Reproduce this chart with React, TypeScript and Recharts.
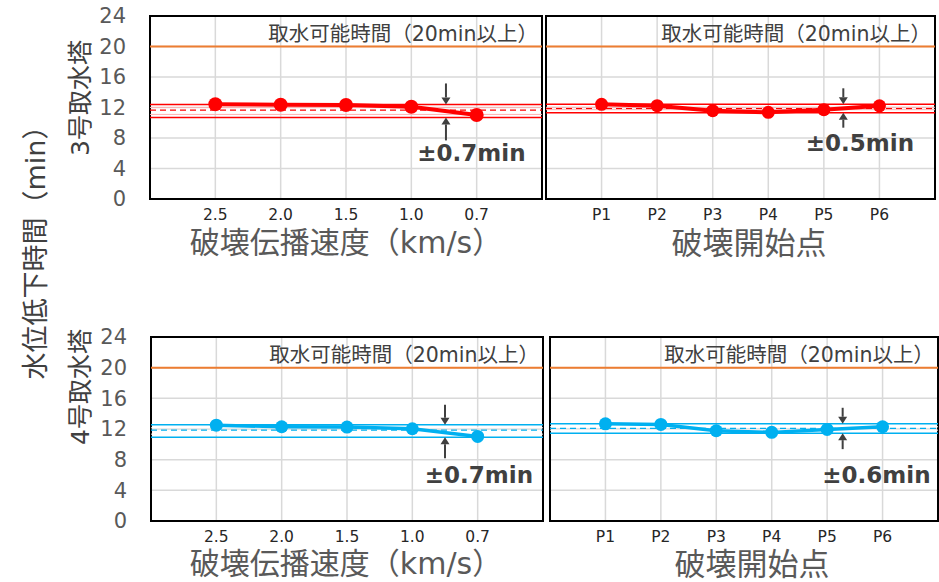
import React from "react";
import {
  LineChart,
  Line,
  XAxis,
  YAxis,
  CartesianGrid,
  ReferenceLine,
  ReferenceArea,
  ReferenceDot,
} from "recharts";

// ---- data ----
const speedCategories = ["2.5", "2.0", "1.5", "1.0", "0.7"];
const pointCategories = ["P1", "P2", "P3", "P4", "P5", "P6"];
const yTicks = [0, 4, 8, 12, 16, 20, 24];
const intakeThreshold = 20;
const thresholdLabel = "取水可能時間（20min以上）";

const tower3Speed = [12.42, 12.37, 12.33, 12.1, 11.02];
const tower3Point = [12.42, 12.24, 11.58, 11.37, 11.72, 12.22];
const tower4Speed = [12.5, 12.29, 12.25, 12.03, 11.03];
const tower4Point = [12.68, 12.6, 11.77, 11.56, 11.95, 12.29];

// band: [upper, mean, lower]
const tower3SpeedBand = [12.4, 11.65, 10.7];
const tower3PointBand = [12.42, 11.86, 11.32];
const tower4SpeedBand = [12.55, 11.86, 10.94];
const tower4PointBand = [12.68, 12.08, 11.46];

const rangeLabels = ["±0.7min", "±0.5min", "±0.7min", "±0.6min"];
// annotation anchor positions in data units: [arrowX, textX, textY]
const annotTL = [4.53, 4.92, 6.03];
const annotTR = [5.35, 5.65, 7.34];
const annotBL = [4.5, 5.02, 5.97];
const annotBR = [5.28, 5.89, 5.97];

const FONT = '"DejaVu Sans", "Noto Sans CJK JP", sans-serif';
const RED = "#FF0000";
const BLUE = "#00B0F0";
const ORANGE = "#ED7D31";

type PanelProps = {
  top: number;
  plotLeft: number;
  plotRight: number;
  plotHeight: number;
  categories: string[];
  values: number[];
  band: number[];
  color: string;
  pale: string;
  annot: number[];
  label: string;
  showY: boolean;
  arrowLens: number[];
  lineWidth: number;
  dotR: number;
};

const DownArrow = (len: number) => (p: any) => {
  const { cx, cy } = p;
  const h = 7;
  return (
    <g>
      <line x1={cx} y1={cy - len} x2={cx} y2={cy - h} stroke="#404040" strokeWidth={2} />
      <path d={`M${cx - 4.5},${cy - h} L${cx + 4.5},${cy - h} L${cx},${cy} Z`} fill="#404040" />
    </g>
  );
};

const UpArrow = (len: number) => (p: any) => {
  const { cx, cy } = p;
  const h = 7;
  return (
    <g>
      <line x1={cx} y1={cy + len} x2={cx} y2={cy + h} stroke="#404040" strokeWidth={2} />
      <path d={`M${cx - 4.5},${cy + h} L${cx + 4.5},${cy + h} L${cx},${cy} Z`} fill="#404040" />
    </g>
  );
};

const Panel = (props: PanelProps) => {
  const {
    top, plotLeft, plotRight, plotHeight, categories, values, band, color, pale,
    annot, label, showY, arrowLens, lineWidth, dotR,
  } = props;
  const n = categories.length;
  const data = values.map((v, i) => ({ x: i + 1, v }));
  const W = 939;
  const marginTop = 16;
  const xAxisH = 30;
  const H = marginTop + plotHeight + xAxisH + 3;
  const yAxisW = 150;
  const xTicks = categories.map((_, i) => i + 1);

  const upperShape = (p: any) => (
    <g>
      <line x1={p.x1} y1={p.y1} x2={p.x2} y2={p.y2} stroke={color} strokeWidth={1.5} />
      <line x1={p.x1} y1={p.y1 + 3} x2={p.x2} y2={p.y2 + 3} stroke={pale} strokeWidth={1} />
    </g>
  );
  const lowerShape = (p: any) => (
    <g>
      <line x1={p.x1} y1={p.y1} x2={p.x2} y2={p.y2} stroke={color} strokeWidth={1.5} />
      <line x1={p.x1} y1={p.y1 - 3} x2={p.x2} y2={p.y2 - 3} stroke={pale} strokeWidth={1} />
    </g>
  );
  const titleShape = (p: any) => (
    <text
      x={p.cx - 4}
      y={p.cy - 13}
      textAnchor="end"
      dominantBaseline="central"
      fontSize={20.5}
      fill="#404040"
      fontFamily={FONT}
    >
      {thresholdLabel}
    </text>
  );
  const rangeShape = (p: any) => (
    <text
      x={p.cx}
      y={p.cy}
      textAnchor="middle"
      dominantBaseline="central"
      fontSize={23}
      fontWeight="bold"
      fill="#404040"
      fontFamily={FONT}
    >
      {label}
    </text>
  );

  return (
    <div style={{ position: "absolute", left: 0, top }}>
      <LineChart
        width={W}
        height={H}
        data={data}
        margin={{
          top: marginTop,
          right: W - plotRight,
          bottom: 3,
          left: showY ? plotLeft - yAxisW : plotLeft,
        }}
      >
        <CartesianGrid stroke="#D9D9D9" strokeWidth={1.5} />
        <XAxis
          type="number"
          dataKey="x"
          domain={[0, n + 1]}
          ticks={xTicks}
          tickFormatter={(v: number) => categories[v - 1] ?? ""}
          allowDataOverflow
          axisLine={false}
          tickLine={false}
          tickSize={0}
          tickMargin={10}
          height={xAxisH}
          interval={0}
          tick={{ fontSize: 15.5, fill: "#262626", fontFamily: FONT }}
        />
        <YAxis
          type="number"
          domain={[0, 24]}
          ticks={yTicks}
          hide={!showY}
          width={yAxisW}
          axisLine={false}
          tickLine={false}
          tickSize={0}
          tickMargin={24}
          interval={0}
          tick={{ fontSize: 21, fill: "#595959", fontFamily: FONT }}
        />
        <ReferenceLine y={intakeThreshold} stroke={ORANGE} strokeWidth={2} ifOverflow="visible" />
        <ReferenceLine y={band[0]} shape={upperShape} ifOverflow="visible" />
        <ReferenceLine y={band[1]} stroke={color} strokeWidth={1.3} strokeDasharray="6 4" ifOverflow="visible" />
        <ReferenceLine y={band[2]} shape={lowerShape} ifOverflow="visible" />
        <ReferenceDot x={n + 1} y={intakeThreshold} ifOverflow="visible" shape={titleShape} />
        <Line
          type="linear"
          dataKey="v"
          stroke={color}
          strokeWidth={lineWidth}
          dot={{ r: dotR, fill: color, stroke: color, strokeWidth: 0 }}
          isAnimationActive={false}
        />
        <ReferenceDot x={annot[0]} y={band[0]} ifOverflow="visible" shape={DownArrow(arrowLens[0])} />
        <ReferenceDot x={annot[0]} y={band[2]} ifOverflow="visible" shape={UpArrow(arrowLens[1])} />
        <ReferenceDot x={annot[1]} y={annot[2]} ifOverflow="visible" shape={rangeShape} />
        <ReferenceArea
          x1={0}
          x2={n + 1}
          y1={0}
          y2={24}
          fill="none"
          stroke="#000"
          strokeWidth={2}
          ifOverflow="visible"
        />
      </LineChart>
    </div>
  );
};

const Txt = ({ x, y, size, children, rotate, color }: any) => (
  <div
    style={{
      position: "absolute",
      fontFamily: FONT,
      whiteSpace: "nowrap",
      lineHeight: 1,
      left: x,
      top: y,
      fontSize: size,
      color: color ?? "#595959",
      transform: `translate(-50%, -50%)${rotate ? " rotate(-90deg)" : ""}`,
    }}
  >
    {children}
  </div>
);

export default function App() {
  return (
    <div
      style={{
        position: "absolute",
        left: 0,
        top: 0,
        width: 939,
        height: 582,
        background: "#fff",
        overflow: "hidden",
      }}
    >
      <Panel
        top={0}
        plotLeft={150}
        plotRight={542}
        plotHeight={183}
        categories={speedCategories}
        values={tower3Speed}
        band={tower3SpeedBand}
        color={RED}
        pale="#FFB0B0"
        annot={annotTL}
        label={rangeLabels[0]}
        showY
        arrowLens={[21, 23]}
        lineWidth={4}
        dotR={7}
      />
      <Panel
        top={0}
        plotLeft={546}
        plotRight={935}
        plotHeight={183}
        categories={pointCategories}
        values={tower3Point}
        band={tower3PointBand}
        color={RED}
        pale="#FFB0B0"
        annot={annotTR}
        label={rangeLabels[1]}
        showY={false}
        arrowLens={[16, 15]}
        lineWidth={4}
        dotR={6.5}
      />
      <Panel
        top={321}
        plotLeft={151}
        plotRight={543}
        plotHeight={184}
        categories={speedCategories}
        values={tower4Speed}
        band={tower4SpeedBand}
        color={BLUE}
        pale="#FFFFFF"
        annot={annotBL}
        label={rangeLabels[2]}
        showY
        arrowLens={[20, 21]}
        lineWidth={3.5}
        dotR={6.5}
      />
      <Panel
        top={321}
        plotLeft={550}
        plotRight={938}
        plotHeight={184}
        categories={pointCategories}
        values={tower4Point}
        band={tower4PointBand}
        color={BLUE}
        pale="#FFFFFF"
        annot={annotBR}
        label={rangeLabels[3]}
        showY={false}
        arrowLens={[16, 16]}
        lineWidth={3.5}
        dotR={6.5}
      />
      <Txt x={346} y={243} size={30}>破壊伝播速度（km/s）</Txt>
      <Txt x={749} y={243} size={31}>破壊開始点</Txt>
      <Txt x={346} y={564} size={30}>破壊伝播速度（km/s）</Txt>
      <Txt x={752} y={564} size={31}>破壊開始点</Txt>
      <Txt x={80} y={98} size={25} rotate color="#404040">3号取水塔</Txt>
      <Txt x={80} y={387} size={25} rotate color="#404040">4号取水塔</Txt>
      <Txt x={35} y={246} size={27} rotate color="#404040">水位低下時間（min）</Txt>
    </div>
  );
}
